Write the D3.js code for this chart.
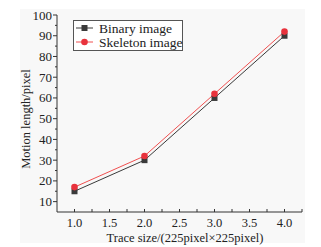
<!DOCTYPE html>
<html>
<head>
<meta charset="utf-8">
<script src="https://cdn.jsdelivr.net/npm/d3@7"></script>
<style>
  body { margin: 0; background: #fff; }
  text { font-family: "Liberation Serif", "Times New Roman", serif; fill: #222; }
</style>
</head>
<body>
<script>
// motion length vs trace size

const traceSize = [1.0, 2.0, 3.0, 4.0];
const binaryLen = [15, 30, 60, 90];
const skeletonLen = [17, 32, 62, 92];
const xTicks = [1.0, 1.5, 2.0, 2.5, 3.0, 3.5, 4.0];
const yTicks = [10, 20, 30, 40, 50, 60, 70, 80, 90, 100];

const series = [
  {name: "Binary image", vals: binaryLen, line: "#3a3a3a", mark: "#3a3a3a", shape: "square"},
  {name: "Skeleton image", vals: skeletonLen, line: "#f05050", mark: "#e8323c", shape: "circle"}
];

const width = 321, height = 247;
const svg = d3.select("body").append("svg")
    .attr("width", width)
    .attr("height", height);

// faint panel background
svg.append("rect")
    .attr("x", 20).attr("y", 9)
    .attr("width", 285).attr("height", 234)
    .attr("fill", "#f8f8f8");

const x = d3.scaleLinear().domain([0.75, 4.25]).range([57, 302]);
const y = d3.scaleLinear().domain([5, 100]).range([212, 15]);

// x axis, ticks pointing up
const xAxis = svg.append("g")
    .attr("transform", "translate(0,212)");
xAxis.append("line")
    .attr("x1", x.range()[0]).attr("x2", x.range()[1])
    .attr("stroke", "#333").attr("stroke-width", 1);
xAxis.selectAll(".xminor")
    .data(d3.range(1.0, 4.26, 0.25))
    .join("line")
    .attr("x1", d => x(d)).attr("x2", d => x(d))
    .attr("y1", 0).attr("y2", -3)
    .attr("stroke", "#333");
xAxis.selectAll(".xlab")
    .data(xTicks)
    .join("text")
    .attr("x", d => x(d))
    .attr("y", 15)
    .attr("text-anchor", "middle")
    .style("font-size", "12.5px")
    .text(d => d.toFixed(1));

// y axis
const yAxis = svg.append("g")
    .attr("transform", "translate(57,0)");
yAxis.append("line")
    .attr("y1", y(100)).attr("y2", y.range()[0])
    .attr("stroke", "#333");
yAxis.selectAll(".ymajor")
    .data(yTicks)
    .join("line")
    .attr("x1", 0).attr("x2", -4)
    .attr("y1", d => y(d)).attr("y2", d => y(d))
    .attr("stroke", "#333");
yAxis.selectAll(".yminor")
    .data(d3.range(15, 100, 10))
    .join("line")
    .attr("x1", 0).attr("x2", -2)
    .attr("y1", d => y(d)).attr("y2", d => y(d))
    .attr("stroke", "#333");
yAxis.selectAll(".ylab")
    .data(yTicks)
    .join("text")
    .attr("x", -5)
    .attr("y", d => y(d))
    .attr("dy", "0.35em")
    .attr("text-anchor", "end")
    .style("font-size", "13px")
    .text(d => d);

// axis titles
svg.append("text")
    .attr("x", 185).attr("y", 242)
    .attr("text-anchor", "middle")
    .style("font-size", "12.5px")
    .text("Trace size/(225pixel×225pixel)");

svg.append("text")
    .attr("transform", "translate(30,119)rotate(-90)")
    .attr("text-anchor", "middle")
    .style("font-size", "12.5px")
    .text("Motion length/pixel");

// lines and markers
const lineGen = (vals) => d3.line()
    .x((d, i) => x(traceSize[i]))
    .y(d => y(d))(vals);

series.forEach(s => {
  svg.append("path")
      .attr("d", lineGen(s.vals))
      .attr("fill", "none")
      .attr("stroke", s.line)
      .attr("stroke-width", 1);
});

series.forEach(s => {
  const g = svg.append("g");
  if (s.shape === "square") {
    g.selectAll("rect")
        .data(s.vals)
        .join("rect")
        .attr("x", (d, i) => x(traceSize[i]) - 3)
        .attr("y", d => y(d) - 3)
        .attr("width", 6).attr("height", 6)
        .attr("fill", s.mark);
  } else {
    g.selectAll("circle")
        .data(s.vals)
        .join("circle")
        .attr("cx", (d, i) => x(traceSize[i]))
        .attr("cy", d => y(d))
        .attr("r", 3.3)
        .attr("fill", s.mark);
  }
});

// legend
const legend = svg.append("g").attr("transform", "translate(73,20)");
legend.append("rect")
    .attr("x", 0.5).attr("y", 0.5)
    .attr("width", 109).attr("height", 30)
    .attr("fill", "#fff")
    .attr("stroke", "#555");

series.forEach((s, i) => {
  const row = legend.append("g").attr("transform", "translate(0," + (8 + i * 14) + ")");
  row.append("line")
      .attr("x1", 3).attr("x2", 20)
      .attr("stroke", s.line);
  if (s.shape === "square") {
    row.append("rect").attr("x", 8.5).attr("y", -3).attr("width", 6).attr("height", 6).attr("fill", s.mark);
  } else {
    row.append("circle").attr("cx", 11.5).attr("cy", 0).attr("r", 3.3).attr("fill", s.mark);
  }
  row.append("text")
      .attr("x", 26)
      .attr("y", 0)
      .attr("dy", "0.35em")
      .style("font-size", "13.5px")
      .text(s.name);
});
</script>
</body>
</html>
